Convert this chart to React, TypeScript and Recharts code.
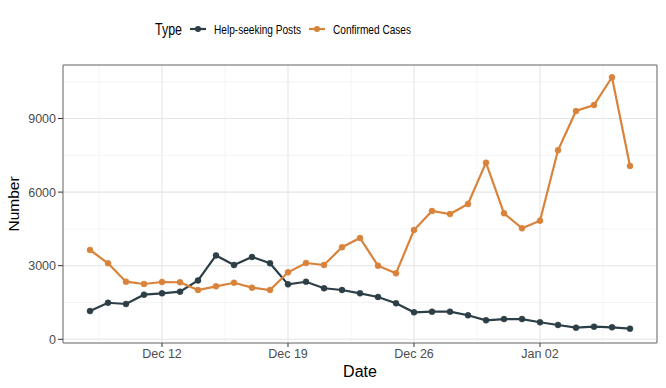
import React from 'react';
import { LineChart, Line, XAxis, YAxis, CartesianGrid, ReferenceArea } from 'recharts';

// day index 0 = Dec 08 ... 30 = Jan 07
const dates = [
    'Dec 08', 'Dec 09', 'Dec 10', 'Dec 11', 'Dec 12', 'Dec 13', 'Dec 14', 'Dec 15',
    'Dec 16', 'Dec 17', 'Dec 18', 'Dec 19', 'Dec 20', 'Dec 21', 'Dec 22', 'Dec 23',
    'Dec 24', 'Dec 25', 'Dec 26', 'Dec 27', 'Dec 28', 'Dec 29', 'Dec 30', 'Dec 31',
    'Jan 01', 'Jan 02', 'Jan 03', 'Jan 04', 'Jan 05', 'Jan 06', 'Jan 07',
];

const helpPosts = [
    1150, 1490, 1440, 1820, 1875, 1940, 2400, 3420, 3030, 3355, 3100,
    2240, 2345, 2080, 2010, 1875, 1725, 1470, 1100, 1125, 1125, 980,
    775, 825, 825, 695, 585, 475, 515, 490, 435,
];

const confirmedCases = [
    3640, 3100, 2350, 2255, 2335, 2325, 2010, 2160, 2305, 2105, 2010,
    2730, 3110, 3030, 3755, 4130, 3000, 2690, 4455, 5230, 5105, 5515,
    7200, 5135, 4525, 4835, 7705, 9305, 9550, 10680, 7065,
];

const xTicks = [4, 11, 18, 25];
const xTickLabels = ['Dec 12', 'Dec 19', 'Dec 26', 'Jan 02'];
const xMinor = [0.5, 7.5, 14.5, 21.5, 28.5];
const yTicks = [0, 3000, 6000, 9000];
const yMinor = [1500, 4500, 7500, 10500];

const seriesNames = ['Help-seeking Posts', 'Confirmed Cases'];
const colors = ['#2C3E46', '#D9823A'];

const data = dates.map((d, i) => ({
    day: i,
    date: d,
    help: helpPosts[i],
    cases: confirmedCases[i],
}));

const font = '"Liberation Sans", Arial, Helvetica, sans-serif';

// legend drawn on top, ggplot style
const Legend = () => (
    <svg width={666} height={60} style={{ position: 'absolute', left: 0, top: 0 }}>
        <text x={155} y={34.5} fontSize={16} fontFamily={font} fill="#000" textLength={27} lengthAdjust="spacingAndGlyphs">Type</text>
        <line x1={190} x2={206} y1={29} y2={29} stroke={colors[0]} strokeWidth={2.2} />
        <circle cx={198} cy={29} r={3} fill={colors[0]} />
        <text x={214} y={33.8} fontSize={13.2} fontFamily={font} fill="#000" textLength={87} lengthAdjust="spacingAndGlyphs">{seriesNames[0]}</text>
        <line x1={309} x2={325} y1={29} y2={29} stroke={colors[1]} strokeWidth={2.2} />
        <circle cx={317} cy={29} r={3} fill={colors[1]} />
        <text x={333} y={33.8} fontSize={13.2} fontFamily={font} fill="#000" textLength={78} lengthAdjust="spacingAndGlyphs">{seriesNames[1]}</text>
    </svg>
);

const App = () => {
    return (
        <div style={{ position: 'absolute', left: 0, top: 0, width: 666, height: 388, background: '#fff' }}>
            <LineChart
                width={666}
                height={388}
                data={data}
                margin={{ top: 65, right: 9, bottom: 0, left: 0 }}
                style={{ fontFamily: font }}
            >
                {/* minor grid */}
                <CartesianGrid stroke="#F1F1F1" strokeWidth={0.8} horizontalValues={yMinor} verticalValues={xMinor} />
                {/* major grid */}
                <CartesianGrid stroke="#E5E5E5" strokeWidth={1.1} />
                <XAxis
                    dataKey="day"
                    type="number"
                    domain={[-1.5, 31.5]}
                    ticks={xTicks}
                    tickFormatter={(v) => xTickLabels[xTicks.indexOf(v)] ?? ''}
                    height={45}
                    axisLine={false}
                    tickLine={{ stroke: '#333', strokeWidth: 1 }}
                    tickSize={4}
                    tick={{ fill: '#4D4D4D', fontSize: 12.5 }}
                    allowDataOverflow
                    label={{
                        content: () => (
                            <text x={360} y={377} textAnchor="middle" fontSize={16} fill="#000" fontFamily={font}>Date</text>
                        ),
                    }}
                />
                <YAxis
                    type="number"
                    domain={[-150, 11180]}
                    ticks={yTicks}
                    width={63}
                    axisLine={false}
                    tickLine={{ stroke: '#333', strokeWidth: 1 }}
                    tickSize={5}
                    tick={{ fill: '#4D4D4D', fontSize: 12.5 }}
                    allowDataOverflow
                    label={{
                        content: () => (
                            <text transform="translate(19,204) rotate(-90)" textAnchor="middle" fontSize={15.5} fill="#000" fontFamily={font}>Number</text>
                        ),
                    }}
                />
                <Line
                    type="linear"
                    dataKey="help"
                    name={seriesNames[0]}
                    stroke={colors[0]}
                    strokeWidth={2.2}
                    dot={{ r: 3, fill: colors[0], stroke: colors[0], strokeWidth: 0.5 }}
                    isAnimationActive={false}
                />
                <Line
                    type="linear"
                    dataKey="cases"
                    name={seriesNames[1]}
                    stroke={colors[1]}
                    strokeWidth={2.2}
                    dot={{ r: 3, fill: colors[1], stroke: colors[1], strokeWidth: 0.5 }}
                    isAnimationActive={false}
                />
                <ReferenceArea x1={-1.5} x2={31.5} y1={-150} y2={11180} fill="none" stroke="#6f6f6f" strokeWidth={1} ifOverflow="visible" />
            </LineChart>
            <Legend />
        </div>
    );
};

export default App;
